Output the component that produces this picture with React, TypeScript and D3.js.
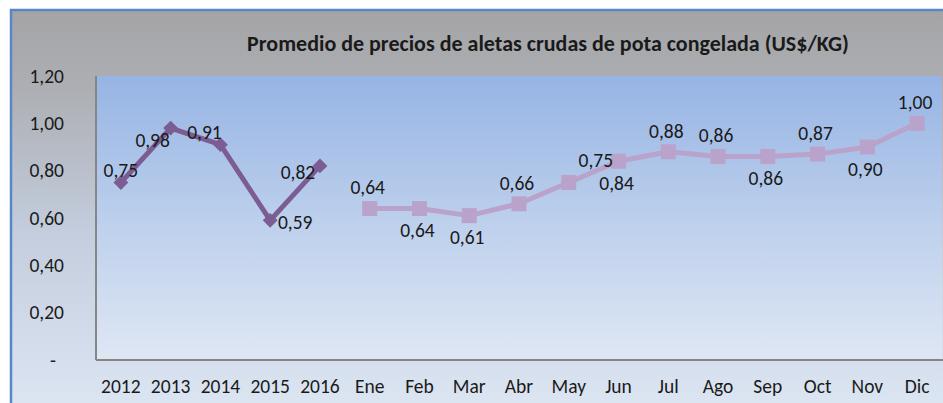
import React, { useEffect, useRef } from 'react';
import * as d3 from 'd3';

// categorias del eje X
const categories = ['2012', '2013', '2014', '2015', '2016', 'Ene', 'Feb', 'Mar', 'Abr', 'May', 'Jun', 'Jul', 'Ago', 'Sep', 'Oct', 'Nov', 'Dic'];
const yearCats = ['2012', '2013', '2014', '2015', '2016'];
const yearValues = [0.75, 0.98, 0.91, 0.59, 0.82];
const monthCats = ['Ene', 'Feb', 'Mar', 'Abr', 'May', 'Jun', 'Jul', 'Ago', 'Sep', 'Oct', 'Nov', 'Dic'];
const monthValues = [0.64, 0.64, 0.61, 0.66, 0.75, 0.84, 0.88, 0.86, 0.86, 0.87, 0.90, 1.0];
const yearLabelPos = ['n', 'bl', 'tl', 'r', 'l'];
const monthLabelPos = ['t', 'b', 'b', 't', 'tr', 'b', 't', 't', 'b', 't', 'b', 't'];
const yTicks = [0, 0.2, 0.4, 0.6, 0.8, 1.0, 1.2];

const title = 'Promedio de precios de aletas crudas de pota congelada (US$/KG)';
const font = "Carlito, 'Liberation Sans Narrow', 'DejaVu Sans Condensed', sans-serif";

const offsets: Record<string, [number, number]> = {
  n: [0, -12],
  t: [-2, -21],
  b: [-2, 22],
  l: [-22, 6],
  r: [25, 2],
  tl: [-16, -12],
  bl: [-18, 12],
  tr: [27, -22],
};

const fmt = (v: number) => (v === 0 ? '-' : v.toFixed(2).replace('.', ','));

export default function App() {
  const svgRef = useRef<SVGSVGElement>(null);

  useEffect(() => {
    document.body.style.margin = '0';
    if (!svgRef.current) return;
    const svg = d3.select(svgRef.current);
    svg.selectAll('*').remove();

    const width = 943;
    const height = 403;
    const margin = { top: 76, right: 1, bottom: 43, left: 96 };
    const fs = 19.5;

    const x = d3.scaleBand<string>()
      .domain(categories)
      .range([margin.left, width - margin.right]);

    const y = d3.scaleLinear()
      .domain([0, 1.2])
      .range([height - margin.bottom, margin.top]);

    const defs = svg.append('defs');
    const outer = defs.append('linearGradient').attr('id', 'outer-grad')
      .attr('x1', 0).attr('y1', 0).attr('x2', 0).attr('y2', 1);
    outer.append('stop').attr('offset', '0%').attr('stop-color', '#a4a4a6');
    outer.append('stop').attr('offset', '20%').attr('stop-color', '#adafb4');
    outer.append('stop').attr('offset', '55%').attr('stop-color', '#c3cddd');
    outer.append('stop').attr('offset', '100%').attr('stop-color', '#dde6f3');

    const plot = defs.append('linearGradient').attr('id', 'plot-grad')
      .attr('x1', 0).attr('y1', 0).attr('x2', 0).attr('y2', 1);
    plot.append('stop').attr('offset', '0%').attr('stop-color', '#96b4e4');
    plot.append('stop').attr('offset', '50%').attr('stop-color', '#bccfec');
    plot.append('stop').attr('offset', '100%').attr('stop-color', '#dfe7f4');

    // fondo del grafico
    svg.append('rect')
      .attr('x', 11).attr('y', 10)
      .attr('width', width).attr('height', height)
      .attr('fill', 'url(#outer-grad)')
      .attr('stroke', '#5a86c6')
      .attr('stroke-width', 2.5);

    // area de trazado
    svg.append('rect')
      .attr('x', margin.left).attr('y', margin.top)
      .attr('width', width - margin.right - margin.left)
      .attr('height', height - margin.bottom - margin.top)
      .attr('fill', 'url(#plot-grad)');

    // ejes
    svg.append('line')
      .attr('x1', margin.left).attr('x2', margin.left)
      .attr('y1', margin.top).attr('y2', y(0))
      .attr('stroke', '#868686').attr('stroke-width', 2);
    svg.append('line')
      .attr('x1', margin.left).attr('x2', width)
      .attr('y1', y(0)).attr('y2', y(0))
      .attr('stroke', '#868686').attr('stroke-width', 2);

    svg.append('text')
      .attr('x', 548).attr('y', 51)
      .attr('text-anchor', 'middle')
      .attr('font-family', font)
      .attr('font-weight', 'bold')
      .attr('font-size', 22)
      .attr('fill', '#1a1a1a')
      .text(title);

    svg.append('g')
      .selectAll('text')
      .data(yTicks)
      .join('text')
      .attr('x', d => (d === 0 ? 53 : 64))
      .attr('y', d => y(d))
      .attr('dy', '0.35em')
      .attr('text-anchor', d => (d === 0 ? 'middle' : 'end'))
      .attr('font-family', font)
      .attr('font-size', fs)
      .attr('fill', '#1a1a1a')
      .text(d => fmt(d));

    svg.append('g')
      .selectAll('text')
      .data(categories)
      .join('text')
      .attr('x', d => (x(d) ?? 0) + x.bandwidth() / 2)
      .attr('y', 393)
      .attr('text-anchor', 'middle')
      .attr('font-family', font)
      .attr('font-size', fs)
      .attr('fill', '#1a1a1a')
      .text(d => d);

    const cx = (c: string) => (x(c) ?? 0) + x.bandwidth() / 2;
    const line = d3.line<[string, number]>()
      .x(d => cx(d[0]))
      .y(d => y(d[1]));

    const yearData: [string, number][] = yearCats.map((c, i) => [c, yearValues[i]]);
    const monthData: [string, number][] = monthCats.map((c, i) => [c, monthValues[i]]);

    // serie anual
    svg.append('path')
      .datum(yearData)
      .attr('d', line)
      .attr('fill', 'none')
      .attr('stroke', '#7b5d93')
      .attr('stroke-width', 5)
      .attr('stroke-linejoin', 'round');
    svg.append('g')
      .selectAll('path')
      .data(yearData)
      .join('path')
      .attr('d', d3.symbol(d3.symbolSquare, 110)())
      .attr('transform', d => `translate(${cx(d[0])},${y(d[1])}) rotate(45)`)
      .attr('fill', '#7b5d93');

    // serie mensual
    svg.append('path')
      .datum(monthData)
      .attr('d', line)
      .attr('fill', 'none')
      .attr('stroke', '#b9a3ca')
      .attr('stroke-width', 5)
      .attr('stroke-linejoin', 'round');
    svg.append('g')
      .selectAll('rect')
      .data(monthData)
      .join('rect')
      .attr('x', d => cx(d[0]) - 7.5)
      .attr('y', d => y(d[1]) - 7.5)
      .attr('width', 15)
      .attr('height', 15)
      .attr('fill', '#b9a3ca');

    const addLabels = (data: [string, number][], pos: string[]) => {
      svg.append('g')
        .selectAll('text')
        .data(data)
        .join('text')
        .attr('x', (d, i) => cx(d[0]) + offsets[pos[i]][0])
        .attr('y', (d, i) => y(d[1]) + offsets[pos[i]][1])
        .attr('dy', '0.35em')
        .attr('text-anchor', 'middle')
        .attr('font-family', font)
        .attr('font-size', fs)
        .attr('fill', '#1a1a1a')
        .text(d => fmt(d[1]));
    };
    addLabels(yearData, yearLabelPos);
    addLabels(monthData, monthLabelPos);
  }, []);

  return <svg ref={svgRef} width={943} height={403} style={{ display: 'block', background: '#fff' }} />;
}
